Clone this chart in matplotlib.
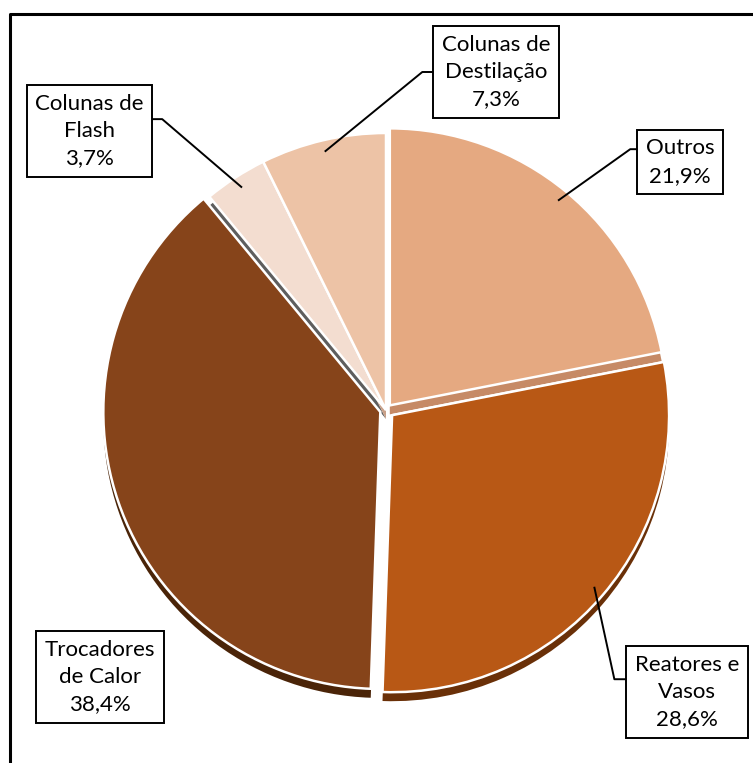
import numpy as np
import matplotlib.pyplot as plt

# Category shares (percent) in clockwise order starting at 12 o'clock
categories = ["Outros", "Reatores e\nVasos", "Trocadores\nde Calor",
              "Colunas de\nFlash", "Colunas de\nDestilação"]
shares = [21.9, 28.6, 38.4, 3.7, 7.3]
pct_labels = ["21,9%", "28,6%", "38,4%", "3,7%", "7,3%"]

face_colors = ["#E5A981", "#B85815", "#86441A", "#F3DDD0", "#EDC3A6"]
side_colors = ["#C68A66", "#6A3008", "#4A2408", "#5E5E5E", "#C9A088"]
explode_px = [6, 8, 6, 0, 0]

W, H = 753, 763
fig = plt.figure(figsize=(W / 100, H / 100), dpi=100)
ax = fig.add_axes([0, 0, 1, 1])

cx, cy = 386, H - 410
r = 277
depth = 9

# side wall of the pie (a darker copy shifted down)
ax.pie(shares, explode=explode_px, colors=side_colors, startangle=90,
       counterclock=False, radius=r, center=(cx, cy - depth),
       wedgeprops=dict(edgecolor="none", linewidth=0))
# top faces
wedges, _ = ax.pie(shares, explode=explode_px, colors=face_colors,
                   startangle=90, counterclock=False, radius=r,
                   center=(cx, cy),
                   wedgeprops=dict(edgecolor="white", linewidth=1.8))

ax.set_xlim(0, W)
ax.set_ylim(0, H)
ax.set_aspect("auto")
ax.axis("off")

# outer frame (left and top edges)
ax.plot([10, 10, W + 5], [-5, H - 14, H - 14], color="black", lw=2.2,
        solid_capstyle="projecting", clip_on=False)

font = dict(family=["Lato", "DejaVu Sans"], size=16)

# label layout: box centre (x, y from top), side of box the leader enters,
# leader height as fraction from box top, elbow distance from box edge
layout = {
    "Outros": ((680, 162), "left", 0.30, 7),
    "Reatores e\nVasos": ((687, 692), "left", 0.36, 12),
    "Trocadores\nde Calor": ((100, 677), None, 0, 0),
    "Colunas de\nFlash": ((89.5, 131), "right", 0.37, 10),
    "Colunas de\nDestilação": ((496, 72), "left", 0.50, 11),
}

texts = []
for cat, pct in zip(categories, pct_labels):
    (bx, by), *_ = layout[cat]
    t = ax.text(bx, H - by, f"{cat}\n{pct}", ha="center", va="center",
                linespacing=1.45, color="black",
                bbox=dict(boxstyle="square,pad=0.38", fc="white",
                          ec="black", lw=1.4), zorder=5, **font)
    texts.append(t)

fig.canvas.draw()
inv = ax.transData.inverted()
for cat, t, w in zip(categories, texts, wedges):
    (bx, by), side, frac, elbow = layout[cat]
    if side is None:
        continue
    ext = t.get_bbox_patch().get_window_extent()
    (x0, y0), (x1, y1) = inv.transform([[ext.x0, ext.y0], [ext.x1, ext.y1]])
    ya = y1 - frac * (y1 - y0)
    if side == "left":
        xe, xk = x0, x0 - elbow
    else:
        xe, xk = x1, x1 + elbow
    th = np.deg2rad(0.5 * (w.theta1 + w.theta2))
    wx, wy = w.center
    ax_ = wx + 0.96 * w.r * np.cos(th)
    ay_ = wy + 0.96 * w.r * np.sin(th)
    ax.plot([ax_, xk, xe], [ay_, ya, ya], color="black", lw=1.4, zorder=4)

fig.savefig("out.png", dpi=100)
